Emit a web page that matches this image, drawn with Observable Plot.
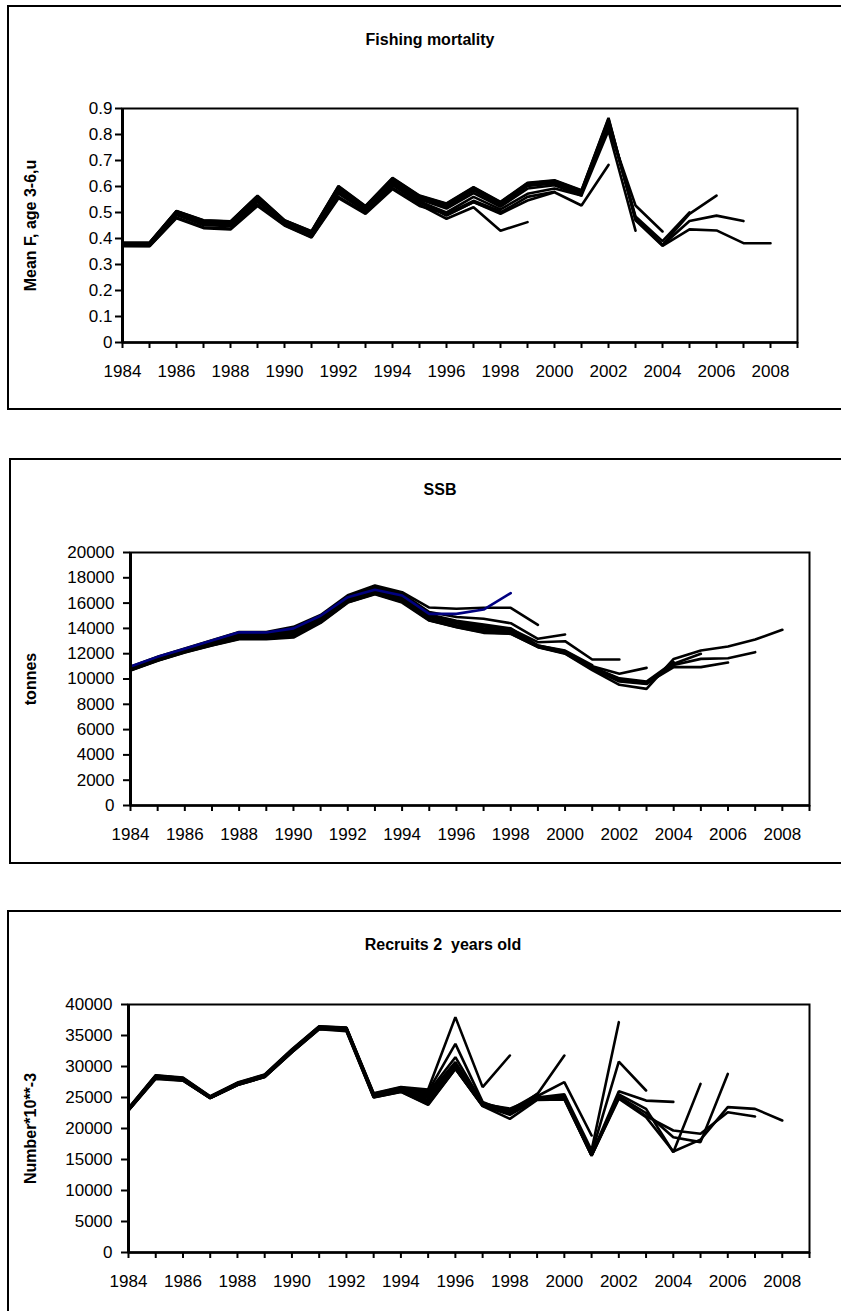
<!DOCTYPE html>
<html>
<head>
<meta charset="utf-8">
<script src="https://cdn.jsdelivr.net/npm/d3@7"></script>
<script src="https://cdn.jsdelivr.net/npm/@observablehq/plot@0.6"></script>
<style>
  html, body { margin: 0; padding: 0; background: #fff; }
  #wrap { position: relative; width: 841px; height: 1311px; overflow: hidden; font-family: "Liberation Sans", Arial, sans-serif; }
  .box { position: absolute; border: 2.5px solid #000; box-sizing: border-box; }
  .title { position: absolute; font-weight: bold; font-size: 16px; transform: translate(-50%, -50%); white-space: pre; }
  .plot { position: absolute; left: 0; }
  .plot svg { overflow: visible; }
  g[aria-label="y-axis label"] text { font-weight: bold; font-size: 16px; }
  g[aria-label="x-axis tick"] path, g[aria-label="y-axis tick"] path { stroke-width: 2px; }
</style>
</head>
<body>
<div id="wrap"></div>
<script>
// ---- shared categories ----
const runYears = [1998, 1999, 2000, 2001, 2002, 2003, 2004, 2005, 2006, 2007, 2008];
const xTicks = d3.range(1984, 2010);
const fTicks = [0, 0.1, 0.2, 0.3, 0.4, 0.5, 0.6, 0.7, 0.8, 0.9];
const ssbTicks = [0, 2000, 4000, 6000, 8000, 10000, 12000, 14000, 16000, 18000, 20000];
const recTicks = [0, 5000, 10000, 15000, 20000, 25000, 30000, 35000, 40000];

// ---- Fishing mortality: 1984-1995 per run (terminal year 1998..2008) ----
const fEarly = [
  [0.370,0.370,0.478,0.440,0.435,0.525,0.450,0.404,0.555,0.495,0.590,0.525],
  [0.372,0.371,0.481,0.443,0.438,0.530,0.452,0.406,0.560,0.498,0.595,0.530],
  [0.375,0.374,0.490,0.452,0.447,0.540,0.458,0.412,0.572,0.505,0.605,0.538],
  [0.376,0.376,0.493,0.455,0.450,0.544,0.460,0.414,0.577,0.508,0.610,0.542],
  [0.377,0.377,0.495,0.457,0.452,0.547,0.461,0.416,0.581,0.510,0.613,0.545],
  [0.379,0.379,0.498,0.461,0.457,0.552,0.464,0.419,0.587,0.514,0.619,0.551],
  [0.380,0.380,0.500,0.463,0.459,0.555,0.465,0.421,0.590,0.516,0.622,0.554],
  [0.381,0.381,0.502,0.465,0.461,0.558,0.467,0.423,0.594,0.519,0.626,0.558],
  [0.382,0.382,0.504,0.467,0.463,0.561,0.468,0.425,0.597,0.521,0.629,0.561],
  [0.383,0.383,0.505,0.469,0.465,0.563,0.469,0.427,0.600,0.523,0.631,0.563],
  [0.383,0.384,0.506,0.470,0.466,0.565,0.470,0.428,0.602,0.525,0.633,0.565]
];
// 1996 .. terminal year
const fLate = [
  [0.495,0.545,0.505],
  [0.476,0.520,0.430,0.463],
  [0.490,0.540,0.500,0.560,0.580],
  [0.500,0.560,0.512,0.572,0.592,0.565],
  [0.488,0.540,0.495,0.546,0.578,0.527,0.683],
  [0.515,0.575,0.522,0.592,0.605,0.565,0.815,0.430],
  [0.522,0.585,0.528,0.602,0.612,0.572,0.830,0.527,0.427],
  [0.527,0.590,0.533,0.607,0.617,0.578,0.845,0.485,0.390,0.500],
  [0.531,0.594,0.537,0.610,0.620,0.582,0.855,0.480,0.376,0.495,0.565],
  [0.533,0.596,0.539,0.612,0.622,0.584,0.860,0.475,0.374,0.467,0.488,0.467],
  [0.535,0.598,0.541,0.614,0.624,0.586,0.864,0.470,0.372,0.435,0.431,0.382,0.382]
];

// ---- SSB: 1984-1994 per run ----
const ssbEarly = [
  [10990,11750,12400,13040,13700,13680,14000,15000,16470,17050,16600],
  [10980,11760,12420,13060,13720,13720,14120,15060,16620,17400,16860],
  [10930,11700,12360,12990,13630,13630,14000,14960,16530,17280,16760],
  [10890,11660,12320,12940,13560,13560,13900,14880,16450,17180,16660],
  [10850,11620,12280,12890,13490,13490,13800,14800,16370,17090,16560],
  [10810,11590,12240,12840,13420,13420,13700,14730,16300,17000,16460],
  [10770,11550,12210,12790,13360,13360,13600,14660,16230,16920,16370],
  [10740,11520,12180,12750,13300,13300,13520,14600,16170,16850,16280],
  [10710,11490,12150,12710,13240,13240,13440,14540,16120,16790,16200],
  [10690,11460,12120,12670,13190,13190,13360,14490,16070,16740,16110],
  [10660,11440,12100,12640,13140,13140,13280,14440,16040,16700,16040]
];
// 1995 .. terminal year
const ssbLate = [
  [15150,15150,15490,16790],
  [15650,15550,15630,15630,14280],
  [15300,14900,14760,14410,13180,13520],
  [15100,14600,14300,14000,12650,12250,11100],
  [15000,14500,14150,13950,12910,12990,11540,11540],
  [14900,14400,14000,13800,12650,12200,11000,10410,10880],
  [14750,14250,13900,13750,12600,12150,10950,10050,9800,11330],
  [14700,14200,13800,13680,12580,12100,10900,10000,9700,11200,11990],
  [14680,14150,13750,13640,12560,12060,10850,9900,9650,10940,10940,11300],
  [14650,14120,13700,13600,12540,12030,10800,9800,9600,11100,11590,11640,12120],
  [14620,14100,13650,13570,12520,12000,10700,9540,9220,11590,12250,12570,13120,13890]
];

// ---- Recruits age 2: 1984-1995 per run ----
const recEarly = [
  [23300,28600,28200,25200,27400,28700,32800,36500,36300,25700,26700,26300],
  [23250,28550,28150,25150,27350,28650,32700,36450,36250,25600,26600,26000],
  [23200,28500,28100,25100,27300,28600,32650,36400,36200,25500,26500,25800],
  [23150,28450,28050,25050,27250,28550,32600,36350,36150,25450,26400,25500],
  [23100,28400,28000,25000,27200,28500,32550,36300,36100,25400,26300,25200],
  [23050,28350,27950,25000,27150,28450,32500,36250,36050,25300,26200,24900],
  [23000,28300,27900,24950,27100,28400,32450,36200,36000,25250,26100,24600],
  [22950,28200,27850,24950,27100,28400,32400,36150,35900,25200,26050,24300],
  [22950,28150,27800,24900,27050,28350,32350,36100,35850,25100,26000,24100],
  [22900,28100,27750,24900,27000,28300,32300,36050,35800,25050,25950,23900],
  [22900,28000,27700,24900,27000,28300,32300,36000,35700,25000,25900,23800]
];
// 1996 .. terminal year
const recLate = [
  [37960,26670,31770],
  [33650,24300,22500,25600],
  [31500,24100,23000,25500,31770],
  [30700,24000,22700,25200,27470,18870],
  [30300,23900,23200,25000,25500,16500,37150],
  [30000,23800,23000,24900,25300,16000,30800,26130],
  [29900,23800,22800,24800,25100,15800,26000,24500,24300],
  [29800,23700,22600,24800,25000,15700,25500,23170,16180,27200],
  [29700,23700,22400,24700,24900,15650,25200,22500,18600,17800,28800],
  [29650,23650,22200,24700,24800,15600,25000,22000,19680,19140,22630,21935],
  [29620,23600,21560,24600,24700,15600,24800,21830,16300,18200,23440,23170,21290]
];

// ---- build tidy rows ----
function toRows(early, late) {
  return runYears.flatMap((run, i) =>
    early[i].concat(late[i]).map((v, j) => ({run, year: 1984 + j, value: v})));
}
const fRows = toRows(fEarly, fLate);
const ssbRows = toRows(ssbEarly, ssbLate);
const recRows = toRows(recEarly, recLate);

const wrap = document.getElementById("wrap");

function addBox(left, top, width, height) {
  const d = document.createElement("div");
  d.className = "box";
  Object.assign(d.style, {left: left + "px", top: top + "px", width: width + "px", height: height + "px"});
  wrap.appendChild(d);
}
function addTitle(text, cx, cy) {
  const d = document.createElement("div");
  d.className = "title";
  d.textContent = text;
  Object.assign(d.style, {left: cx + "px", top: cy + "px"});
  wrap.appendChild(d);
}
const xFmt = d => (d % 2 === 0 && d <= 2008) ? String(d) : "";

function panel({rows, top, height, mt, mb, ml, mr, yDomain, yTicks, yLabel, labelOffset, tickPadY, blueRun}) {
  const blackRows = blueRun ? rows.filter(r => r.run !== blueRun) : rows;
  const blueRows = blueRun ? rows.filter(r => r.run === blueRun) : [];
  const chart = Plot.plot({
    width: 841,
    height,
    marginTop: mt, marginBottom: mb, marginLeft: ml, marginRight: mr,
    style: {fontFamily: "'Liberation Sans', Arial, sans-serif", fontSize: "17px", background: "transparent", overflow: "visible", color: "#000"},
    x: {domain: [1984, 2009], ticks: xTicks, tickFormat: xFmt, tickSize: 6, tickPadding: 16, label: null},
    y: {domain: yDomain, ticks: yTicks, tickFormat: d => String(d), tickSize: 7, tickPadding: tickPadY,
        label: yLabel, labelAnchor: "center", labelOffset, labelArrow: "none"},
    marks: [
      Plot.frame({stroke: "#000", strokeWidth: 2}),
      Plot.line(blackRows, {x: "year", y: "value", z: "run", stroke: "#000", strokeWidth: 2.6, strokeLinejoin: "miter"}),
      Plot.line(blueRows, {x: "year", y: "value", z: "run", stroke: "#000080", strokeWidth: 2.6}),
      Plot.ruleX([1984], {stroke: "#000", strokeWidth: 3}),
      Plot.ruleY([0], {stroke: "#000", strokeWidth: 2.5})
    ]
  });
  const holder = document.createElement("div");
  holder.className = "plot";
  holder.style.top = top + "px";
  holder.appendChild(chart);
  wrap.appendChild(holder);
}

// Panel 1
addBox(7, 5, 860, 405);
addTitle("Fishing mortality", 430, 40);
panel({rows: fRows, top: 0, height: 410, mt: 108, mb: 68, ml: 122, mr: 44,
  yDomain: [0, 0.9], yTicks: fTicks, yLabel: "Mean F, age 3-6,u", labelOffset: 98, tickPadY: 3});

// Panel 2
addBox(9, 458, 860, 406);
addTitle("SSB", 440, 490);
panel({rows: ssbRows, top: 460, height: 400, mt: 92, mb: 55, ml: 130, mr: 32,
  yDomain: [0, 20000], yTicks: ssbTicks, yLabel: "tonnes", labelOffset: 106, tickPadY: 9, blueRun: 1998});

// Panel 3
addBox(7, 910, 860, 420);
addTitle("Recruits 2  years old", 443, 945);
panel({rows: recRows, top: 912, height: 399, mt: 92, mb: 59, ml: 128, mr: 32,
  yDomain: [0, 40000], yTicks: recTicks, yLabel: "Number*10**-3", labelOffset: 104, tickPadY: 9});
</script>
</body>
</html>
